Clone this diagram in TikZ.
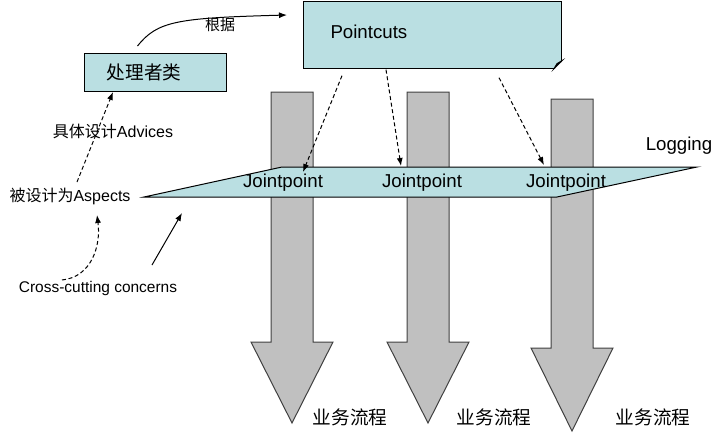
\documentclass[tikz,border=0pt]{standalone}
\usepackage{fontspec}
\setmainfont{Liberation Sans}
\newfontfamily\cjk{Noto Sans CJK SC}
\usetikzlibrary{arrows.meta}
\definecolor{paleblue}{RGB}{186,223,226}
\definecolor{flowgray}{RGB}{192,192,192}
\tikzstyle{bluebox} = [rectangle, draw=black, fill=paleblue, line width=0.75pt]
\tikzstyle{textbox} = [bluebox, align=left, inner ysep=0pt]
\tikzstyle{tag} = [inner sep=1pt, font=\fontsize{12}{14}\selectfont]
\tikzstyle{bigtag} = [inner sep=1pt, font=\fontsize{14}{16}\selectfont]
\tikzstyle{flowtag} = [inner sep=1pt, font=\cjk\fontsize{14}{16}\selectfont]
\tikzstyle{flow} = [draw=black!75, fill=flowgray, line width=0.75pt]
\tikzstyle{arrow} = [line width=0.75pt, ->, >={Latex[length=6pt,width=4.5pt]}]
\tikzstyle{dasharrow} = [arrow, dash pattern=on 3pt off 2pt]

\begin{document}
\begin{tikzpicture}[x=0.75pt, y=-0.75pt]
      \useasboundingbox (0,0) rectangle (726,440);

      % business flows
      \foreach \cx/\ytop/\yneck/\ytip in {292/92/342/423, 428/92/342/423, 572/99/348/431}
        \draw[flow] (\cx-21,\ytop) -- (\cx+21,\ytop) -- (\cx+21,\yneck) -- (\cx+41,\yneck)
          -- (\cx,\ytip) -- (\cx-41,\yneck) -- (\cx-21,\yneck) -- cycle;
      \node (flow1) [flowtag] at (350,417) {业务流程};
      \node (flow2) [flowtag] at (494,417) {业务流程};
      \node (flow3) [flowtag] at (653,417) {业务流程};

      % logging plane
      \draw[bluebox] (144,197) -- (282,167) -- (697,167) -- (557,197) -- cycle;
      \node (logging) [bigtag] at (679,146) {Logging};
      \node (jp1) [bigtag] at (283,183) {Jointpoint};
      \node (jp2) [bigtag] at (422,183) {Jointpoint};
      \node (jp3) [bigtag] at (566,183) {Jointpoint};
      \coordinate (plane) at (182,213);

      % boxes
      \node (pointcuts) [textbox, anchor=north west, minimum width=193.5pt, minimum height=50pt,
        inner xsep=20pt, text width=153pt, text height=10pt, text depth=4.5pt,
        font=\fontsize{14}{16}\selectfont] at (303,1) {Pointcuts};
      \fill[white] ([shift={(1.5,1.5)}]pointcuts.south east) -- ++(0,-10) -- ++(-10,10) -- cycle;
      \draw[line width=0.75pt, fill=paleblue!60!gray] ([shift={(0,-8)}]pointcuts.south east)
        -- ([shift={(-8,0)}]pointcuts.south east) -- ([shift={(-5,-5)}]pointcuts.south east) -- cycle;

      \node (handler) [textbox, minimum width=107pt, minimum height=28.5pt, inner xsep=17pt,
        text width=73pt, font=\cjk\fontsize{14}{16}\selectfont] at (155.5,72) {处理者类};

      % labels
      \node (basis) [inner sep=1pt, font=\cjk\fontsize{11.25}{13}\selectfont] at (220,25) {根据};
      \node (advices) [tag] at (113,131) {{\cjk 具体设计}Advices};
      \node (aspects) [tag] at (70,196) {{\cjk 被设计为}Aspects};
      \node (cross) [tag, font=\fontsize{11.6}{14}\selectfont] at (98,288) {Cross-cutting concerns};

      \draw [arrow] ([shift={(-18,-26)}]handler.center) .. controls +(20,-25) and +(-110,3) .. ([shift={(-16,14)}]pointcuts.north west);
      \draw [dasharrow] ([shift={(7,-14)}]aspects.center) -- ([shift={(-42.5,20)}]handler.center);
      \draw [dasharrow] ([shift={(-36,-8)}]cross.center) .. controls +(30,-3) and +(4,30) .. ([shift={(27,19)}]aspects.center);
      \draw [arrow] ([shift={(54,-23)}]cross.center) -- (plane);

      \draw [dasharrow] ([shift={(39,7)}]pointcuts.south west) -- ([shift={(20,-11)}]jp1.center);
      \draw [dasharrow] ([shift={(83,1)}]pointcuts.south west) -- ([shift={(-21,-17)}]jp2.center);
      \draw [dasharrow] ([shift={(196,9)}]pointcuts.south west) -- ([shift={(-22,-18)}]jp3.center);
    \end{tikzpicture}
\end{document}
